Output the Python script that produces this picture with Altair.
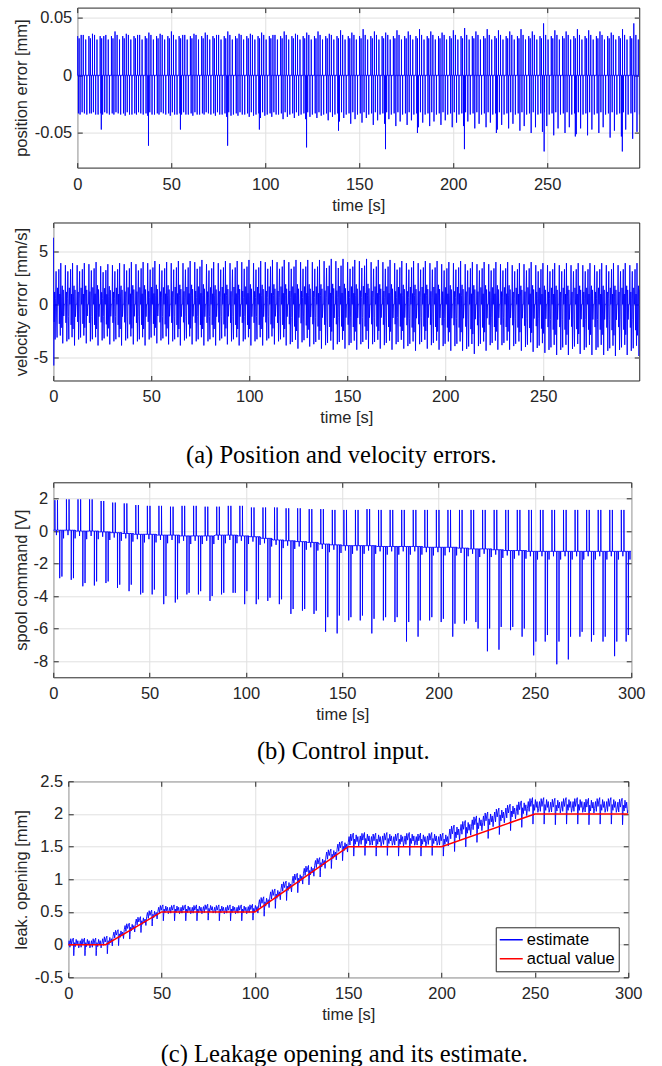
import altair as alt
import pandas as pd

FONT = "Liberation Sans"
SERIF = "Liberation Serif"
INK = "#262626"
BLUE = "#0000ff"
RED = "#ff0000"
GRID = "#e0e0e0"
FS = 16.5
LABEL_EXPR = "replace(format(datum.value, '~g'), '\u2212', '-')"

# ---------------- shared ----------------
CYCLE_T = [0, 6, 12, 18, 24, 30, 36, 42, 48, 54,
           60, 66, 72, 78, 84, 90, 96, 102, 108, 114,
           120, 126, 132, 138, 144, 150, 156, 162, 168, 174,
           180, 186, 192, 198, 204, 210, 216, 222, 228, 234,
           240, 246, 252, 258, 264, 270, 276, 282, 288, 294]
X_TICKS_A = [0, 50, 100, 150, 200, 250]
X_TICKS_B = [0, 50, 100, 150, 200, 250, 300]

# ---------------- (a) position error ----------------
POS_HI = [0.035, 0.036, 0.034, 0.038, 0.036, 0.035, 0.037, 0.036, 0.038, 0.035,
          0.036, 0.037, 0.035, 0.038, 0.036, 0.036, 0.037, 0.035, 0.038, 0.036,
          0.037, 0.038, 0.036, 0.039, 0.037, 0.040, 0.038, 0.037, 0.039, 0.038,
          0.040, 0.038, 0.037, 0.039, 0.041, 0.038, 0.040, 0.039, 0.038, 0.040,
          0.038, 0.045, 0.039, 0.038, 0.040, 0.039, 0.038, 0.037, 0.040, 0.045]
POS_LO = [-0.034, -0.033, -0.034, -0.034, -0.035, -0.034, -0.035, -0.034, -0.035, -0.034,
          -0.035, -0.034, -0.035, -0.036, -0.035, -0.036, -0.037, -0.036, -0.038, -0.037,
          -0.038, -0.037, -0.039, -0.040, -0.042, -0.041, -0.043, -0.042, -0.044, -0.043,
          -0.045, -0.044, -0.043, -0.045, -0.044, -0.046, -0.045, -0.047, -0.046, -0.048,
          -0.050, -0.049, -0.052, -0.050, -0.051, -0.052, -0.050, -0.054, -0.053, -0.055]
POS_LO2 = [-0.033, -0.034, -0.033, -0.033, -0.034, -0.033, -0.034, -0.033, -0.034, -0.034,
           -0.034, -0.033, -0.034, -0.035, -0.034, -0.035, -0.035, -0.034, -0.036, -0.035,
           -0.036, -0.035, -0.036, -0.037, -0.038, -0.037, -0.039, -0.038, -0.040, -0.039,
           -0.041, -0.040, -0.039, -0.041, -0.040, -0.042, -0.041, -0.043, -0.042, -0.044,
           -0.045, -0.044, -0.046, -0.045, -0.046, -0.047, -0.045, -0.048, -0.047, -0.049]
POS_UP_PH = [0.2, 1.0, 2.1, 3.2, 4.5]
POS_UP_LV = [0.034, 0.032, 0.0, 0.035, 0.031]   # index 2 takes POS_HI
POS_DN_PH = [0.6, 1.5, 2.6, 3.8, 5.1]
POS_DN_LV = [-0.033, 0.0, -0.032, 0.0, -0.034]  # index 1 -> POS_LO, index 3 -> POS_LO2
POS_DEEP_T = [12.8, 37.9, 54.9, 80.0, 96.9, 122.0, 139.0, 164.0, 181.0, 206.0, 223.0, 248.4, 265.0, 290.0]
POS_DEEP_V = [-0.047, -0.061, -0.047, -0.061, -0.047, -0.0625, -0.048, -0.064, -0.050, -0.064,
              -0.050, -0.066, -0.053, -0.066]

# ---------------- (a) velocity error ----------------
VEL_HI = [3.9, 3.9, 3.9, 4.0, 3.8, 3.9, 4.0, 4.0, 4.1, 4.0,
          4.1, 4.1, 4.2, 4.0, 4.1, 4.1, 4.2, 4.1, 4.2, 4.2,
          4.2, 4.2, 4.2, 4.3, 4.3, 4.2, 4.3, 4.2, 4.2, 4.1,
          4.1, 4.1, 4.1, 4.0, 4.1, 4.0, 4.0, 4.0, 4.0, 3.9,
          4.0, 3.9, 3.9, 3.9, 3.9, 3.9, 3.9, 3.9, 3.9, 3.9]
VEL_LO = [-3.7, -3.9, -3.7, -3.9, -3.8, -3.9, -3.8, -3.9, -3.7, -3.8,
          -3.9, -3.8, -3.9, -3.9, -3.8, -3.9, -3.9, -3.9, -3.8, -3.9,
          -4.2, -4.0, -4.2, -4.3, -4.2, -4.3, -4.2, -4.2, -4.3, -4.2,
          -4.4, -4.2, -4.3, -4.4, -4.4, -4.7, -4.4, -4.3, -4.3, -4.4,
          -4.5, -4.6, -4.8, -4.8, -4.7, -4.8, -4.8, -4.9, -4.8, -4.9]
VEL_PHASE = [0.0, 0.2, 0.45, 0.7, 0.95, 1.2, 1.45, 1.7, 1.95, 2.2,
             2.45, 2.6, 2.85, 3.1, 3.35, 3.6, 3.85, 4.1, 4.35, 4.6,
             4.85, 5.1, 5.35, 5.6, 5.8]
VEL_SHAPE = [0.0, 0.95, -0.45, 0.3, -0.9, 0.15, 0.8, -0.3, -0.85, 0.4,
             0.0, 0.0, 0.85, -0.5, 0.25, -0.8, 1.0, -0.6, 0.2, 0.45,
             -1.0, 0.35, -0.3, 0.0, 0.0]
VEL0_T = [0.0, 0.1, 0.25, 0.4]
VEL0_V = [0.0, 6.3, -5.8, 0.0]

# ---------------- (b) spool command ----------------
SP_BASE = [0.05, 0.05, 0.0, 0.0, -0.05, -0.1, -0.15, -0.2, -0.2, -0.25,
           -0.25, -0.3, -0.3, -0.3, -0.25, -0.25, -0.3, -0.35, -0.45, -0.55,
           -0.6, -0.65, -0.7, -0.8, -0.85, -0.9, -0.9, -0.9, -0.95, -0.95,
           -0.95, -0.95, -1.0, -1.0, -1.0, -1.05, -1.1, -1.1, -1.15, -1.2,
           -1.2, -1.25, -1.25, -1.25, -1.25, -1.25, -1.25, -1.25, -1.25, -1.25]
SP_UP = [1.9, 1.95, 1.95, 1.95, 1.85, 1.75, 1.7, 1.6, 1.55, 1.55,
         1.5, 1.55, 1.55, 1.5, 1.5, 1.55, 1.55, 1.45, 1.45, 1.45,
         1.4, 1.4, 1.35, 1.35, 1.3, 1.3, 1.3, 1.35, 1.3, 1.3,
         1.3, 1.3, 1.3, 1.3, 1.3, 1.3, 1.3, 1.3, 1.3, 1.3,
         1.3, 1.3, 1.3, 1.3, 1.3, 1.3, 1.3, 1.3, 1.3, 1.3]
SP_DN = [-2.9, -3.0, -3.4, -3.35, -3.2, -3.5, -3.7, -3.9, -3.9, -4.5,
         -4.4, -3.9, -3.9, -4.3, -3.9, -3.8, -4.5, -4.5, -4.3, -4.5,
         -5.1, -4.9, -5.1, -6.2, -6.3, -5.5, -5.5, -6.3, -5.5, -5.6,
         -6.8, -6.5, -5.5, -5.6, -6.5, -5.7, -5.6, -7.4, -7.3, -6.1,
         -6.5, -7.65, -6.8, -8.2, -7.9, -6.5, -6.8, -6.8, -7.7, -6.8]
SP_DN2 = [-2.8, -2.9, -3.2, -3.1, -3.1, -3.3, -3.3, -3.8, -3.6, -4.0,
          -4.2, -3.8, -3.7, -4.0, -3.8, -3.8, -3.7, -4.2, -4.1, -4.2,
          -4.8, -4.8, -4.9, -5.3, -5.2, -5.3, -5.2, -5.4, -5.3, -5.3,
          -5.6, -5.5, -5.3, -5.4, -5.7, -5.5, -6.0, -6.0, -5.9, -5.9,
          -6.0, -6.8, -6.4, -6.8, -6.5, -6.2, -6.4, -6.5, -6.8, -6.4]
SP_PHASE = [0.0, 0.8, 0.85, 0.95, 1.6, 1.65, 1.7, 2.15, 2.2, 2.3,
            3.3, 3.35, 3.45, 4.45, 4.5, 4.6, 5.3, 5.35, 5.4]
SP_KIND = ["b", "b", "u", "b", "b", "s", "b", "b", "u", "b",
           "b", "d", "b", "b", "d2", "b", "b", "s2", "b"]
SP_BLIP = {"s": -0.3, "s2": -0.5}

# ---------------- (c) leakage opening ----------------
ACT_T = [0, 20, 50, 100, 150, 200, 250, 300]
ACT_V = [0.0, 0.0, 0.5, 0.5, 1.5, 1.5, 2.0, 2.0]
EST_LEVEL = [-0.02, -0.02, -0.02, 0.01, 0.12, 0.22, 0.32, 0.42, 0.5, 0.5,
             0.5, 0.5, 0.51, 0.5, 0.5, 0.5, 0.51, 0.6, 0.72, 0.84,
             0.96, 1.08, 1.2, 1.33, 1.45, 1.55, 1.56, 1.55, 1.56, 1.55,
             1.56, 1.55, 1.56, 1.55, 1.65, 1.72, 1.79, 1.85, 1.91, 1.97,
             2.02, 2.07, 2.07, 2.06, 2.07, 2.07, 2.06, 2.07, 2.07, 2.06]
EST_AMP = [0.1, 0.1, 0.1, 0.1, 0.09, 0.09, 0.09, 0.09, 0.09, 0.09,
           0.09, 0.09, 0.09, 0.09, 0.09, 0.09, 0.09, 0.11, 0.11, 0.11,
           0.11, 0.11, 0.11, 0.11, 0.11, 0.13, 0.13, 0.13, 0.13, 0.13,
           0.13, 0.13, 0.13, 0.13, 0.15, 0.15, 0.15, 0.15, 0.15, 0.15,
           0.15, 0.15, 0.15, 0.15, 0.15, 0.15, 0.15, 0.15, 0.15, 0.15]
EST_PHASE = [0.0, 0.45, 0.9, 1.35, 1.8, 2.25, 2.7, 2.95, 3.1, 3.35,
             3.8, 4.25, 4.7, 5.15, 5.6]
EST_SHAPE = [0.1, 0.8, -0.2, 1.1, 0.3, 0.9, 1.2, -1.5, -0.7, 0.5,
             -0.1, 1.0, 0.2, 0.8, -0.3]


def frame(points):
    return pd.DataFrame({"t": [p[0] for p in points],
                         "v": [p[1] for p in points],
                         "i": list(range(len(points)))})


# position error table
events = []
for c, t0 in enumerate(CYCLE_T):
    for k, ph in enumerate(POS_UP_PH):
        events.append((t0 + ph, POS_HI[c] if k == 2 else POS_UP_LV[k]))
    for k, ph in enumerate(POS_DN_PH):
        lv = POS_LO[c] if k == 1 else (POS_LO2[c] if k == 3 else POS_DN_LV[k])
        events.append((t0 + ph, lv))
events += list(zip(POS_DEEP_T, POS_DEEP_V))
events.sort()
pts = [(0.0, 0.0)]
for t, v in events:
    pts += [(t - 0.03, 0.0), (t, v), (t + 0.03, 0.0)]
pts.append((300.0, 0.0))
df_pos = frame(pts)

# velocity error table
pts = list(zip(VEL0_T, VEL0_V))
for c, t0 in enumerate(CYCLE_T):
    for ph, s in zip(VEL_PHASE, VEL_SHAPE):
        if c == 0 and ph < 0.45:
            continue
        pts.append((t0 + ph, s * VEL_HI[c] if s >= 0 else -s * VEL_LO[c]))
pts.append((300.0, 0.0))
df_vel = frame(pts)

# spool command table
pts = []
for c, t0 in enumerate(CYCLE_T):
    for ph, kind in zip(SP_PHASE, SP_KIND):
        if kind == "b":
            v = SP_BASE[c]
        elif kind == "u":
            v = SP_UP[c]
        elif kind == "d":
            v = SP_DN[c]
        elif kind == "d2":
            v = SP_DN2[c]
        else:
            v = SP_BASE[c] + SP_BLIP[kind]
        pts.append((t0 + ph, v))
pts.append((300.0, SP_BASE[-1]))
df_sp = frame(pts)

# leakage tables
pts = []
for c, t0 in enumerate(CYCLE_T):
    for ph, s in zip(EST_PHASE, EST_SHAPE):
        pts.append((t0 + ph, EST_LEVEL[c] + EST_AMP[c] * s))
pts.append((300.0, EST_LEVEL[-1]))
df_est = frame(pts)
df_est["s"] = "estimate"
df_act = frame(list(zip(ACT_T, ACT_V)))
df_act["s"] = "actual value"


def x_enc(domain, ticks, field="t:Q"):
    return alt.X(field, scale=alt.Scale(domain=domain, nice=False, zero=False),
                 axis=alt.Axis(values=ticks, title="time [s]", orient="bottom",
                               offset=-5, tickSize=5, tickColor=INK, tickWidth=1,
                               domain=False, grid=True, gridColor=GRID, gridWidth=1,
                               labelFont=FONT, labelFontSize=FS, labelColor=INK,
                               labelPadding=8.5, labelExpr=LABEL_EXPR, labelFlush=False,
                               labelOverlap=False, labelBound=False,
                               titleFont=FONT, titleFontSize=FS, titleFontWeight="normal",
                               titleColor=INK, titleY=42.5, titleBaseline="middle"))


def y_enc(domain, ticks, title, title_x, field="v:Q"):
    return alt.Y(field, scale=alt.Scale(domain=domain, nice=False, zero=False),
                 axis=alt.Axis(values=ticks, title=title, orient="left",
                               offset=-5, tickSize=5, tickColor=INK, tickWidth=1,
                               domain=False, grid=True, gridColor=GRID, gridWidth=1,
                               labelFont=FONT, labelFontSize=FS, labelColor=INK,
                               labelPadding=5.5, labelExpr=LABEL_EXPR, labelFlush=False,
                               labelOverlap=False, labelBound=False,
                               titleFont=FONT, titleFontSize=FS, titleFontWeight="normal",
                               titleColor=INK, titleX=title_x, titleBaseline="middle"))


def ghost(xdom, xticks, ydom, yticks):
    g = pd.DataFrame({"gt": [xdom[0]], "gv": [ydom[0]]})
    return alt.Chart(g).mark_point(opacity=0, size=1, clip=True).encode(
        x=alt.X("gt:Q", scale=alt.Scale(domain=xdom, nice=False, zero=False),
                axis=alt.Axis(orient="top", values=xticks, labels=False, domain=False,
                              grid=False, tickSize=5, offset=-5, tickColor=INK,
                              tickWidth=1, title=None, minExtent=0)),
        y=alt.Y("gv:Q", scale=alt.Scale(domain=ydom, nice=False, zero=False),
                axis=alt.Axis(orient="right", values=yticks, labels=False, domain=False,
                              grid=False, tickSize=5, offset=-5, tickColor=INK,
                              tickWidth=1, title=None, minExtent=0)))


def caption(text, offset, dx):
    return alt.TitleParams(text=text, orient="bottom", anchor="middle", frame="group",
                           font=SERIF, fontSize=24.6, fontWeight="normal", color="black",
                           offset=offset, dx=dx)


def spacer():
    return alt.Chart(pd.DataFrame({"z": [0]})).mark_point(opacity=0, size=0.2).encode(
        x=alt.value(0.5), y=alt.value(0.5)).properties(
        width=1, height=1, view=alt.ViewBackground(stroke="transparent"))


TX = 21.5  # page x of rotated y titles

# panel 1
XD_A = [0, 299]
YD1 = [-0.08, 0.0587]
YT1 = [-0.05, 0, 0.05]
line1 = alt.Chart(df_pos).mark_line(color=BLUE, strokeWidth=0.9, clip=True).encode(
    x=x_enc(XD_A, X_TICKS_A),
    y=y_enc(YD1, YT1, "position error [mm]", TX - 77.3 - 5),
    order="i:Q")
p1 = alt.layer(line1, ghost(XD_A, X_TICKS_A, YD1, YT1)).resolve_scale(
    x="independent", y="independent").properties(width=562, height=160)

# panel 2
YD2 = [-7.22, 7.75]
YT2 = [-5, 0, 5]
line2 = alt.Chart(df_vel).mark_line(color=BLUE, strokeWidth=0.9, clip=True).encode(
    x=x_enc(XD_A, X_TICKS_A),
    y=y_enc(YD2, YT2, "velocity error [mm/s]", TX - 53.3 - 5),
    order="i:Q")
p2 = alt.layer(line2, ghost(XD_A, X_TICKS_A, YD2, YT2)).resolve_scale(
    x="independent", y="independent").properties(
    width=586, height=158,
    title=caption("(a) Position and velocity errors.", 18, -5))

# panel 3
XD_B = [0, 300]
YD3 = [-9, 3]
YT3 = [-8, -6, -4, -2, 0, 2]
line3 = alt.Chart(df_sp).mark_line(color=BLUE, strokeWidth=0.9, clip=True).encode(
    x=x_enc(XD_B, X_TICKS_B),
    y=y_enc(YD3, YT3, "spool command [V]", TX - 53.7 - 5),
    order="i:Q")
p3 = alt.layer(line3, ghost(XD_B, X_TICKS_B, YD3, YT3)).resolve_scale(
    x="independent", y="independent").properties(
    width=578, height=195,
    title=caption("(b) Control input.", 16.5, 1))

# panel 4
YD4 = [-0.5, 2.5]
YT4 = [-0.5, 0, 0.5, 1, 1.5, 2, 2.5]
color = alt.Color("s:N", scale=alt.Scale(domain=["estimate", "actual value"], range=[BLUE, RED]),
                  legend=alt.Legend(orient="none", legendX=427.5, legendY=146, title=None,
                                    symbolType="stroke", symbolSize=529, symbolStrokeWidth=1.5,
                                    clipHeight=19, rowPadding=0, padding=3,
                                    labelFont=FONT, labelFontSize=FS, labelColor="black",
                                    labelOffset=3, strokeColor=INK, fillColor="white"))
est = alt.Chart(df_est).mark_line(strokeWidth=0.9, clip=True).encode(
    x=x_enc(XD_B, X_TICKS_B),
    y=y_enc(YD4, YT4, "leak. opening [mm]", TX - 68.3 - 5),
    order="i:Q", color=color)
act = alt.Chart(df_act).mark_line(strokeWidth=1.5, clip=True).encode(
    x=x_enc(XD_B, X_TICKS_B),
    y=y_enc(YD4, YT4, "leak. opening [mm]", TX - 68.3 - 5),
    order="i:Q", color=color)
p4 = alt.layer(alt.layer(est, act), ghost(XD_B, X_TICKS_B, YD4, YT4)).resolve_scale(
    x="independent", y="independent").properties(
    width=560, height=196,
    title=caption("(c) Leakage opening and its estimate.", 20, -4))

row1 = alt.hconcat(spacer(), p1, spacing=0)
row2 = alt.hconcat(spacer(), p2, spacing=0)
row3 = alt.hconcat(spacer(), p3, spacing=0)
row4 = alt.hconcat(spacer(), p4, spacing=0).resolve_legend(color="independent")

top = alt.vconcat(row1, row2, spacing=6.9)
mid = alt.vconcat(top, row3, spacing=12.7)
chart = alt.vconcat(mid, row4, spacing=7.7).resolve_legend(color="independent").properties(
    padding={"left": 9.25, "top": 6.6, "right": 0, "bottom": 0},
    background="white",
).configure_view(stroke=INK, strokeWidth=1)

chart.save("out.html", embed_options={"renderer": "svg", "actions": False})
